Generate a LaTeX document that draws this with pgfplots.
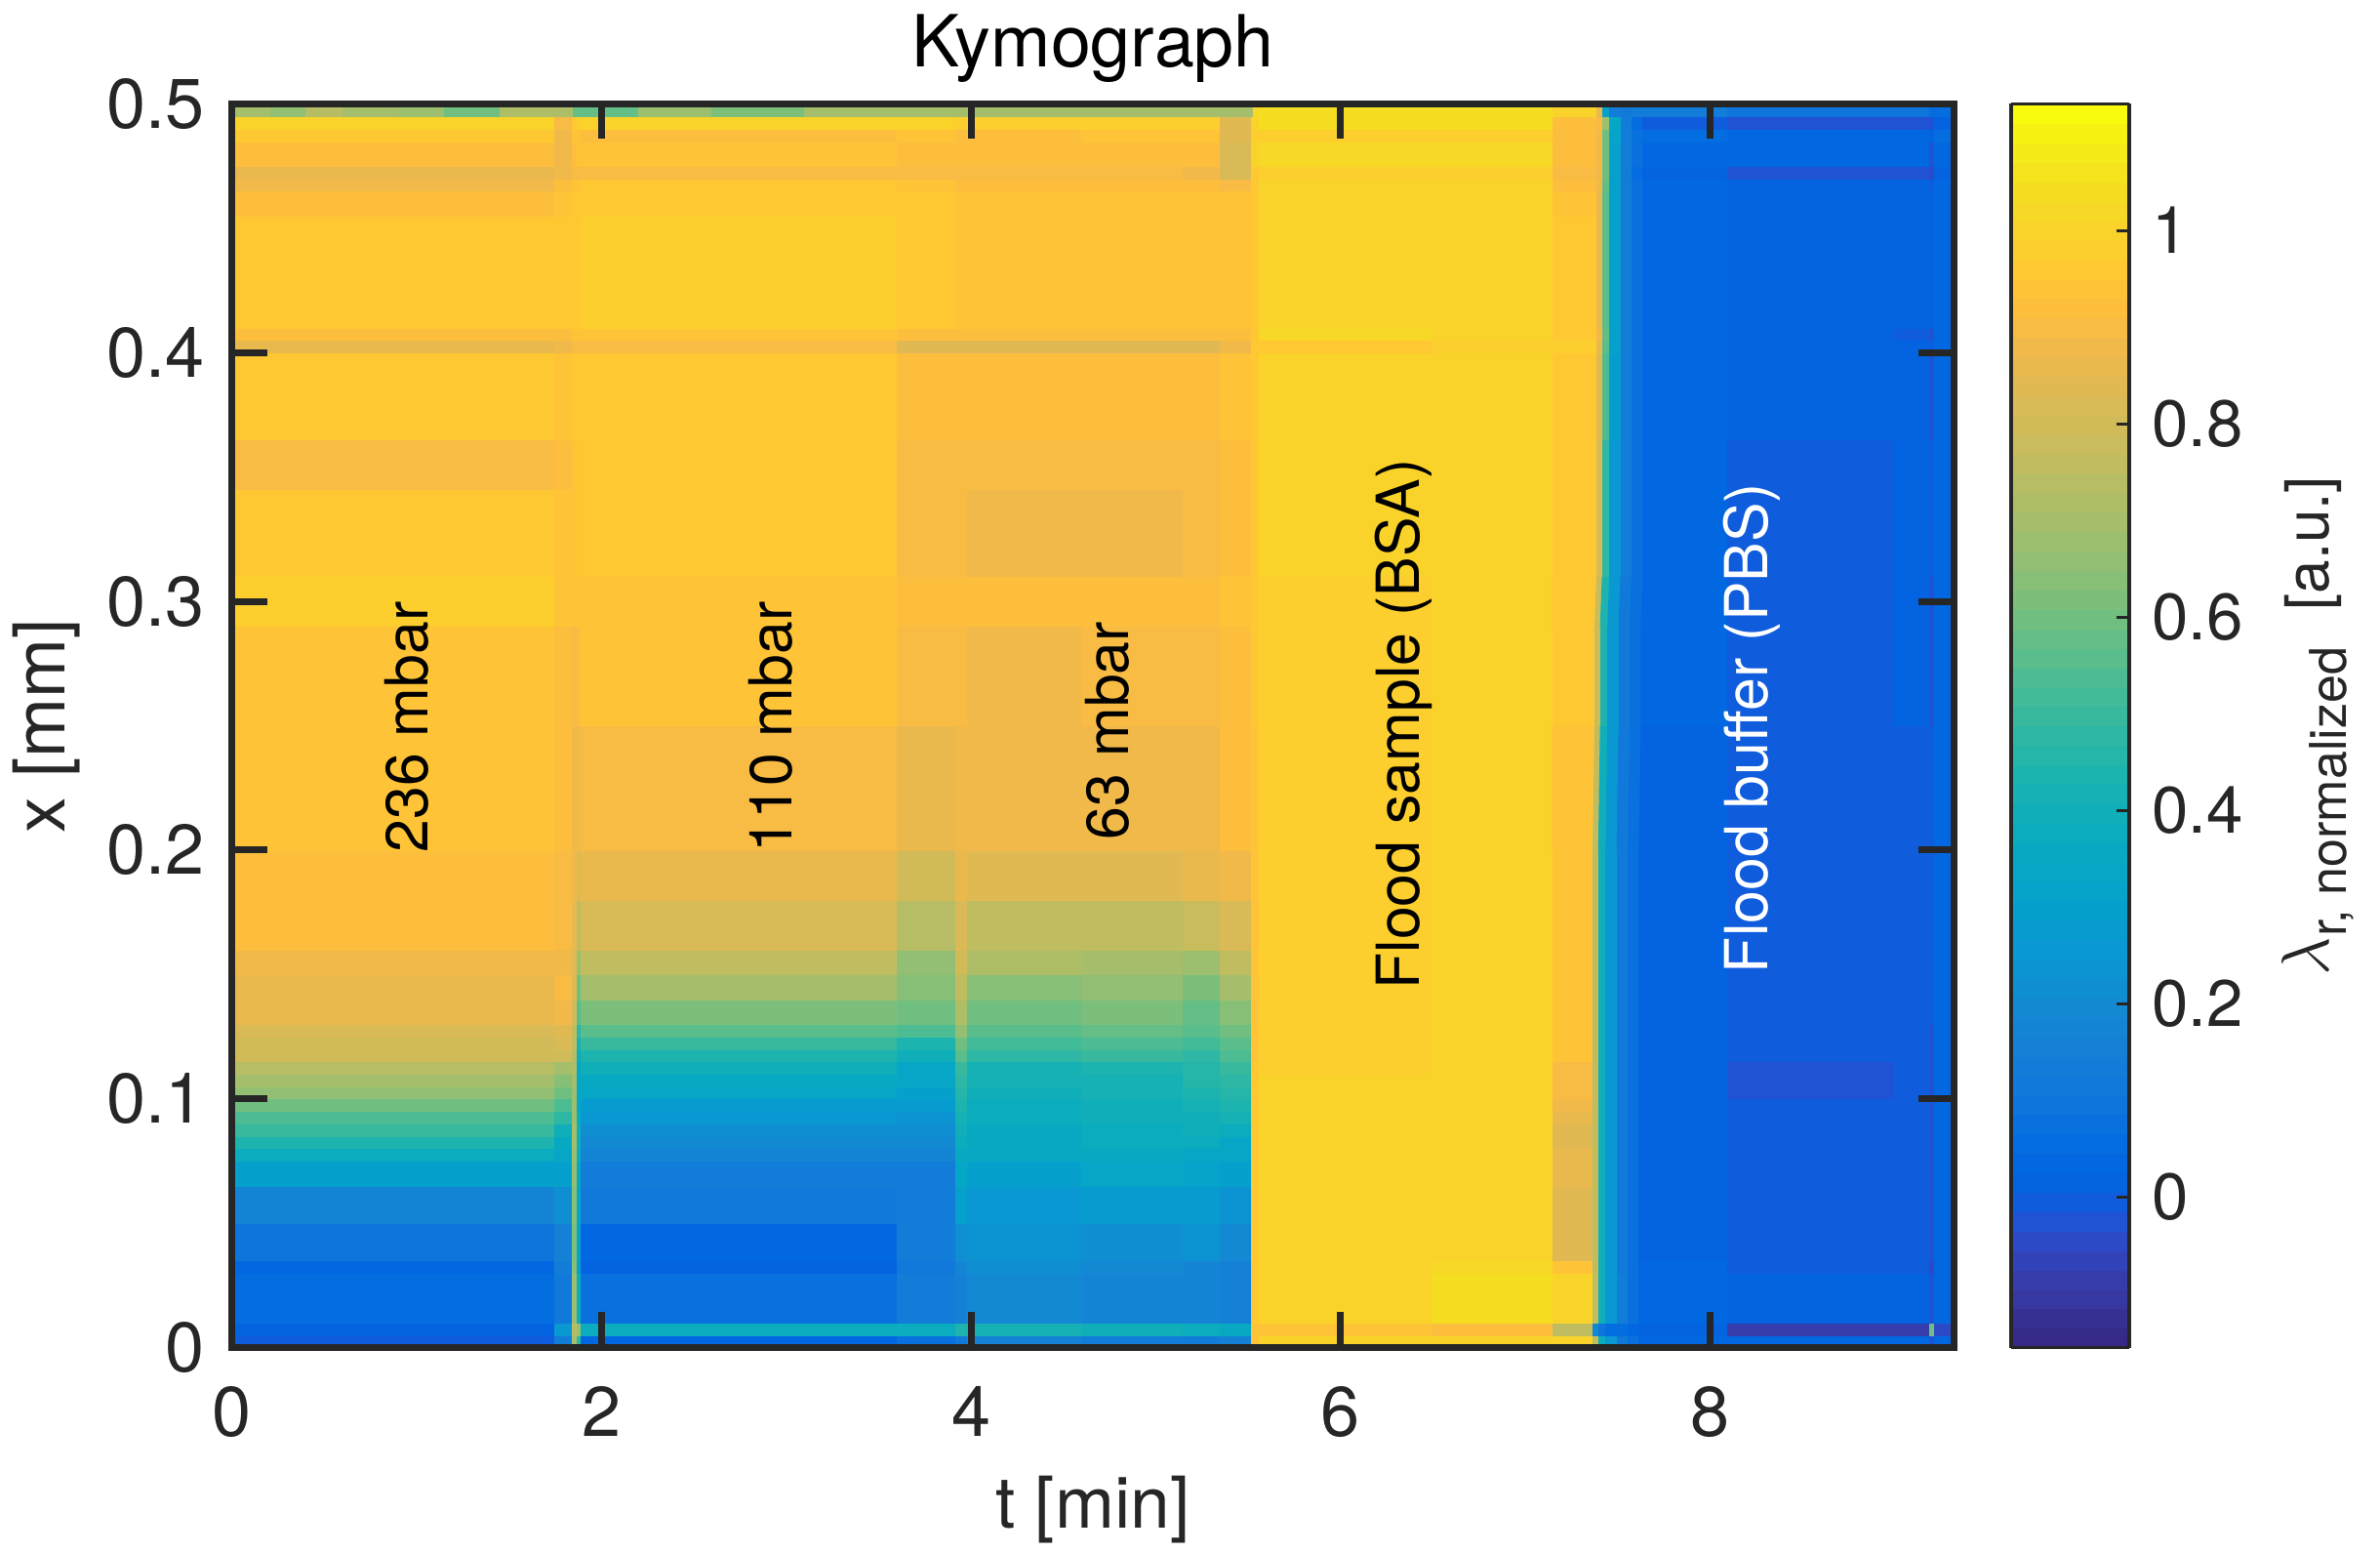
\documentclass[border=0pt]{standalone}
\usepackage{fontspec}
\setmainfont{TeX Gyre Heros}
\usepackage{pgfplots}
\pgfplotsset{compat=1.18}
\definecolor{axdark}{HTML}{262626}
\pgfplotsset{
  colormap={parula}{rgb=(0.2081,0.1663,0.5292) rgb=(0.2116,0.1898,0.5777) rgb=(0.2123,0.2138,0.6270) rgb=(0.2081,0.2386,0.6771)
  rgb=(0.1959,0.2645,0.7279) rgb=(0.1707,0.2919,0.7792) rgb=(0.1253,0.3242,0.8303) rgb=(0.0591,0.3598,0.8683)
  rgb=(0.0117,0.3875,0.8820) rgb=(0.0060,0.4086,0.8828) rgb=(0.0165,0.4266,0.8786) rgb=(0.0329,0.4430,0.8720)
  rgb=(0.0498,0.4586,0.8641) rgb=(0.0629,0.4737,0.8554) rgb=(0.0723,0.4887,0.8467) rgb=(0.0779,0.5040,0.8384)
  rgb=(0.0793,0.5200,0.8312) rgb=(0.0749,0.5375,0.8263) rgb=(0.0641,0.5570,0.8240) rgb=(0.0488,0.5772,0.8228)
  rgb=(0.0343,0.5966,0.8199) rgb=(0.0265,0.6137,0.8135) rgb=(0.0239,0.6287,0.8038) rgb=(0.0231,0.6418,0.7913)
  rgb=(0.0228,0.6535,0.7768) rgb=(0.0267,0.6642,0.7607) rgb=(0.0384,0.6743,0.7436) rgb=(0.0590,0.6838,0.7254)
  rgb=(0.0843,0.6928,0.7062) rgb=(0.1133,0.7015,0.6859) rgb=(0.1453,0.7098,0.6646) rgb=(0.1801,0.7177,0.6424)
  rgb=(0.2178,0.7250,0.6193) rgb=(0.2586,0.7317,0.5954) rgb=(0.3022,0.7376,0.5712) rgb=(0.3482,0.7424,0.5473)
  rgb=(0.3953,0.7459,0.5244) rgb=(0.4420,0.7481,0.5033) rgb=(0.4871,0.7491,0.4840) rgb=(0.5300,0.7491,0.4661)
  rgb=(0.5709,0.7485,0.4494) rgb=(0.6099,0.7473,0.4337) rgb=(0.6473,0.7456,0.4188) rgb=(0.6834,0.7435,0.4044)
  rgb=(0.7184,0.7411,0.3905) rgb=(0.7525,0.7384,0.3768) rgb=(0.7858,0.7356,0.3633) rgb=(0.8185,0.7327,0.3498)
  rgb=(0.8507,0.7299,0.3360) rgb=(0.8824,0.7274,0.3217) rgb=(0.9139,0.7258,0.3063) rgb=(0.9450,0.7261,0.2886)
  rgb=(0.9739,0.7314,0.2666) rgb=(0.9938,0.7455,0.2403) rgb=(0.9990,0.7653,0.2164) rgb=(0.9955,0.7861,0.1967)
  rgb=(0.9880,0.8066,0.1794) rgb=(0.9789,0.8271,0.1633) rgb=(0.9697,0.8481,0.1475) rgb=(0.9626,0.8705,0.1309)
  rgb=(0.9589,0.8949,0.1132) rgb=(0.9598,0.9218,0.0948) rgb=(0.9661,0.9514,0.0755) rgb=(0.9763,0.9831,0.0538)},
}
\newcommand{\fs}[1]{\fontsize{#1}{#1}\selectfont}
\begin{document}
\begin{tikzpicture}
\path[use as bounding box] (-59.5pt,-52.625pt) rectangle (550.25pt,345.125pt);
\begin{axis}[
  at={(0,0)}, anchor=south west,
  scale only axis, width=441pt, height=318.5pt,
  xmin=0, xmax=9.32, ymin=0, ymax=0.5,
  axis on top,
  axis line style={line width=1.75pt, color=axdark},
  tick align=inside, tick pos=both,
  major tick length=9pt,
  tick style={line width=1.75pt, color=axdark},
  xtick={0,2,4,6,8}, ytick={0,0.1,0.2,0.3,0.4,0.5},
  /pgf/number format/assume math mode=true,
  /pgf/number format/fixed,
  tick label style={font=\fs{18}, color=axdark},
  xticklabel style={yshift=-6.5pt},
  yticklabel style={xshift=-3.5pt},
  title={Kymograph}, title style={font=\fs{18.4}, color=black, yshift=-4pt},
  xlabel={t [min]}, ylabel={x [mm]},
  xlabel shift=3pt,
  label style={font=\fs{18.3}, color=axdark},
  colormap name=parula,
  colormap access=piecewise constant,
  point meta min=-0.156, point meta max=1.131,
  colorbar, colorbar sampled,
  colorbar style={
    samples=65,
    width=30.25pt, height=318.5pt,
    at={(parent axis.north east)}, anchor=north west, xshift=6.25pt,
    ytick={0,0.2,0.4,0.6,0.8,1},
    tick align=inside, ytick pos=right, yticklabel pos=right,
    major tick length=3.25pt,
    tick style={line width=0.75pt, color=axdark},
    axis line style={line width=0.9pt, color=axdark},
    yticklabel style={font=\fs{16.8}, color=axdark, xshift=2.3pt},
    /pgf/number format/assume math mode=true,
    /pgf/number format/fixed,
    ylabel={{\fs{19}$\lambda$}\raisebox{-0.3em}{\fs{13}r, normalized}\hspace{0.6em}[a.u.]},
    ylabel style={font=\fs{15.5}, color=axdark},
    ylabel shift=3pt,
  },
]
\addplot[surf, shader=flat corner, mesh/cols=26, mesh/ordering=x varies, point meta=explicit]
  table[row sep=\\, header=false, x index=0, y index=1, meta index=2] {
0 0 -.01\\1.75 0 .14\\1.845 0 .7\\1.87 0 .485\\1.89 0 .03\\3.6 0 .08\\3.92 0 .12\\3.98 0 .16\\4.6 0 .14\\5.15 0 .14\\5.35 0 .15\\5.52 0 .93\\5.56 0 1.01\\6.5 0 1.01\\7.15 0 1.01\\7.37 0 .76\\7.4 0 .385\\7.44 0 .25\\7.5 0 .12\\7.56 0 .08\\7.62 0 .04\\8.1 0 .03\\9 0 .03\\9.19 0 -.02\\9.22 0 .03\\9.32 0 .03\\
0 .005 .02\\1.75 .005 .25\\1.845 .005 .74\\1.87 .005 .68\\1.89 .005 .385\\3.6 .005 .385\\3.92 .005 .435\\3.98 .005 .425\\4.6 .005 .405\\5.15 .005 .385\\5.35 .005 .365\\5.52 .005 .94\\5.56 .005 .93\\6.5 .005 .92\\7.15 .005 .76\\7.37 .005 .2\\7.4 .005 .1\\7.44 .005 .06\\7.5 .005 .05\\7.56 .005 .04\\7.62 .005 .02\\8.1 .005 -.08\\9 .005 -.09\\9.19 .005 .6\\9.22 .005 -.05\\9.32 .005 -.05\\
0 .01 .05\\1.75 .01 .12\\1.845 .01 .68\\1.87 .01 .385\\1.89 .01 .07\\3.6 .01 .13\\3.92 .01 .16\\3.98 .01 .2\\4.6 .01 .17\\5.15 .01 .17\\5.35 .01 .16\\5.52 .01 .96\\5.56 .01 1.01\\6.5 .01 1.04\\7.15 .01 1.01\\7.37 .01 .76\\7.4 .01 .405\\7.44 .01 .25\\7.5 .01 .13\\7.56 .01 .08\\7.62 .01 .03\\8.1 .01 .02\\9 .01 .02\\9.19 .01 -.03\\9.22 .01 .04\\9.32 .01 .04\\
0 .03 .03\\1.75 .03 .13\\1.845 .03 .64\\1.87 .03 .3\\1.89 .03 .01\\3.6 .03 .12\\3.92 .03 .18\\3.98 .03 .22\\4.6 .03 .2\\5.15 .03 .18\\5.35 .03 .16\\5.52 .03 .96\\5.56 .03 1.01\\6.5 .03 1.02\\7.15 .03 .94\\7.37 .03 .76\\7.4 .03 .405\\7.44 .03 .25\\7.5 .03 .12\\7.56 .03 .07\\7.62 .03 .03\\8.1 .03 0\\9 .03 -.01\\9.19 .03 -.05\\9.22 .03 .03\\9.32 .03 .03\\
0 .035 .1\\1.75 .035 .15\\1.845 .035 .62\\1.87 .035 .32\\1.89 .035 .03\\3.6 .035 .13\\3.92 .035 .22\\3.98 .035 .24\\4.6 .035 .22\\5.15 .035 .23\\5.35 .035 .19\\5.52 .035 .96\\5.56 .035 1\\6.5 .035 1.005\\7.15 .035 .84\\7.37 .035 .76\\7.4 .035 .405\\7.44 .035 .25\\7.5 .035 .12\\7.56 .035 .07\\7.62 .035 .02\\8.1 .035 0\\9 .035 0\\9.19 .035 -.03\\9.22 .035 .03\\9.32 .035 .03\\
0 .05 .17\\1.75 .05 .22\\1.845 .05 .64\\1.87 .05 .34\\1.89 .05 .12\\3.6 .05 .13\\3.92 .05 .3\\3.98 .05 .26\\4.6 .05 .28\\5.15 .05 .28\\5.35 .05 .24\\5.52 .05 .96\\5.56 .05 1\\6.5 .05 1.005\\7.15 .05 .83\\7.37 .05 .76\\7.4 .05 .405\\7.44 .05 .25\\7.5 .05 .12\\7.56 .05 .07\\7.62 .05 .02\\8.1 .05 0\\9 .05 0\\9.19 .05 -.02\\9.22 .05 .03\\9.32 .05 .03\\
0 .065 .3\\1.75 .065 .3\\1.845 .065 .66\\1.87 .065 .365\\1.89 .065 .14\\3.6 .065 .13\\3.92 .065 .345\\3.98 .065 .3\\4.6 .065 .33\\5.15 .065 .32\\5.35 .065 .3\\5.52 .065 .96\\5.56 .065 1\\6.5 .065 1.005\\7.15 .065 .86\\7.37 .065 .76\\7.4 .065 .405\\7.44 .065 .25\\7.5 .065 .12\\7.56 .065 .07\\7.62 .065 .02\\8.1 .065 -.01\\9 .065 0\\9.19 .065 -.02\\9.22 .065 .03\\9.32 .065 .03\\
0 .075 .375\\1.75 .075 .34\\1.845 .075 .68\\1.87 .075 .385\\1.89 .075 .17\\3.6 .075 .17\\3.92 .075 .365\\3.98 .075 .35\\4.6 .075 .355\\5.15 .075 .345\\5.35 .075 .34\\5.52 .075 .96\\5.56 .075 1\\6.5 .075 1.005\\7.15 .075 .86\\7.37 .075 .76\\7.4 .075 .405\\7.44 .075 .25\\7.5 .075 .12\\7.56 .075 .07\\7.62 .075 .02\\8.1 .075 -.01\\9 .075 0\\9.19 .075 -.02\\9.22 .075 .03\\9.32 .075 .03\\
0 .08 .445\\1.75 .08 .365\\1.845 .08 .7\\1.87 .08 .405\\1.89 .08 .19\\3.6 .08 .2\\3.92 .08 .385\\3.98 .08 .355\\4.6 .08 .375\\5.15 .08 .375\\5.35 .08 .345\\5.52 .08 .96\\5.56 .08 1\\6.5 .08 1.005\\7.15 .08 .84\\7.37 .08 .76\\7.4 .08 .405\\7.44 .08 .25\\7.5 .08 .12\\7.56 .08 .07\\7.62 .08 .02\\8.1 .08 -.01\\9 .08 0\\9.19 .08 -.02\\9.22 .08 .03\\9.32 .08 .03\\
0 .085 .495\\1.75 .085 .405\\1.845 .085 .7\\1.87 .085 .405\\1.89 .085 .22\\3.6 .085 .22\\3.92 .085 .405\\3.98 .085 .365\\4.6 .085 .385\\5.15 .085 .395\\5.35 .085 .385\\5.52 .085 .96\\5.56 .085 1\\6.5 .085 1.005\\7.15 .085 .84\\7.37 .085 .76\\7.4 .085 .405\\7.44 .085 .25\\7.5 .085 .12\\7.56 .085 .07\\7.62 .085 .02\\8.1 .085 -.01\\9 .085 0\\9.19 .085 -.02\\9.22 .085 .03\\9.32 .085 .03\\
0 .09 .545\\1.75 .09 .485\\1.845 .09 .68\\1.87 .09 .385\\1.89 .09 .25\\3.6 .09 .24\\3.92 .09 .425\\3.98 .09 .375\\4.6 .09 .395\\5.15 .09 .405\\5.35 .09 .425\\5.52 .09 .96\\5.56 .09 1\\6.5 .09 1.005\\7.15 .09 .86\\7.37 .09 .76\\7.4 .09 .405\\7.44 .09 .25\\7.5 .09 .12\\7.56 .09 .07\\7.62 .09 .02\\8.1 .09 -.01\\9 .09 0\\9.19 .09 -.02\\9.22 .09 .03\\9.32 .09 .03\\
0 .095 .6\\1.75 .095 .545\\1.845 .095 .68\\1.87 .095 .34\\1.89 .095 .28\\3.6 .095 .27\\3.92 .095 .445\\3.98 .095 .385\\4.6 .095 .405\\5.15 .095 .425\\5.35 .095 .445\\5.52 .095 .96\\5.56 .095 1\\6.5 .095 1.005\\7.15 .095 .88\\7.37 .095 .76\\7.4 .095 .405\\7.44 .095 .25\\7.5 .095 .12\\7.56 .095 .07\\7.62 .095 .02\\8.1 .095 -.01\\9 .095 0\\9.19 .095 -.02\\9.22 .095 .03\\9.32 .095 .03\\
0 .1 .66\\1.75 .1 .6\\1.845 .1 .68\\1.87 .1 .34\\1.89 .1 .33\\3.6 .1 .3\\3.92 .1 .465\\3.98 .1 .405\\4.6 .1 .415\\5.15 .1 .445\\5.35 .1 .465\\5.52 .1 .96\\5.56 .1 1\\6.5 .1 1.005\\7.15 .1 .9\\7.37 .1 .76\\7.4 .1 .405\\7.44 .1 .25\\7.5 .1 .12\\7.56 .1 .07\\7.62 .1 .02\\8.1 .1 -.02\\9 .1 -.01\\9.19 .1 -.02\\9.22 .1 .03\\9.32 .1 .03\\
0 .105 .7\\1.75 .105 .64\\1.845 .105 .7\\1.87 .105 .33\\1.89 .105 .355\\3.6 .105 .33\\3.92 .105 .485\\3.98 .105 .415\\4.6 .105 .425\\5.15 .105 .455\\5.35 .105 .485\\5.52 .105 .96\\5.56 .105 1\\6.5 .105 1.005\\7.15 .105 .9\\7.37 .105 .76\\7.4 .105 .405\\7.44 .105 .25\\7.5 .105 .12\\7.56 .105 .07\\7.62 .105 .02\\8.1 .105 -.02\\9 .105 -.01\\9.19 .105 -.02\\9.22 .105 .03\\9.32 .105 .03\\
0 .11 .74\\1.75 .11 .7\\1.845 .11 .72\\1.87 .11 .345\\1.89 .11 .395\\3.6 .11 .345\\3.92 .11 .505\\3.98 .11 .425\\4.6 .11 .445\\5.15 .11 .465\\5.35 .11 .495\\5.52 .11 .96\\5.56 .11 .99\\6.5 .11 1\\7.15 .11 .89\\7.37 .11 .76\\7.4 .11 .405\\7.44 .11 .25\\7.5 .11 .12\\7.56 .11 .07\\7.62 .11 .02\\8.1 .11 -.02\\9 .11 -.01\\9.19 .11 -.02\\9.22 .11 .03\\9.32 .11 .03\\
0 .115 .8\\1.75 .115 .8\\1.845 .115 .74\\1.87 .115 .385\\1.89 .115 .445\\3.6 .115 .405\\3.92 .115 .565\\3.98 .115 .485\\4.6 .115 .495\\5.15 .115 .485\\5.35 .115 .535\\5.52 .115 .94\\5.56 .115 .99\\6.5 .115 1\\7.15 .115 .94\\7.37 .115 .76\\7.4 .115 .405\\7.44 .115 .25\\7.5 .115 .12\\7.56 .115 .07\\7.62 .115 .02\\8.1 .115 0\\9 .115 0\\9.19 .115 -.02\\9.22 .115 .03\\9.32 .115 .03\\
0 .12 .8\\1.75 .12 .82\\1.845 .12 .76\\1.87 .12 .425\\1.89 .12 .505\\3.6 .12 .445\\3.92 .12 .6\\3.98 .12 .525\\4.6 .12 .535\\5.15 .12 .525\\5.35 .12 .565\\5.52 .12 .94\\5.56 .12 .99\\6.5 .12 1\\7.15 .12 .94\\7.37 .12 .76\\7.4 .12 .405\\7.44 .12 .25\\7.5 .12 .12\\7.56 .12 .07\\7.62 .12 .02\\8.1 .12 0\\9 .12 0\\9.19 .12 -.02\\9.22 .12 .03\\9.32 .12 .03\\
0 .125 .82\\1.75 .125 .84\\1.845 .125 .76\\1.87 .125 .485\\1.89 .125 .565\\3.6 .125 .535\\3.92 .125 .66\\3.98 .125 .565\\4.6 .125 .58\\5.15 .125 .565\\5.35 .125 .6\\5.52 .125 .94\\5.56 .125 .99\\6.5 .125 1\\7.15 .125 .94\\7.37 .125 .76\\7.4 .125 .405\\7.44 .125 .25\\7.5 .125 .12\\7.56 .125 .07\\7.62 .125 .02\\8.1 .125 0\\9 .125 0\\9.19 .125 -.02\\9.22 .125 .03\\9.32 .125 .03\\
0 .13 .86\\1.75 .13 .88\\1.845 .13 .8\\1.87 .13 .565\\1.89 .13 .62\\3.6 .13 .6\\3.92 .13 .72\\3.98 .13 .6\\4.6 .13 .62\\5.15 .13 .585\\5.35 .13 .64\\5.52 .13 .94\\5.56 .13 .99\\6.5 .13 1\\7.15 .13 .94\\7.37 .13 .76\\7.4 .13 .405\\7.44 .13 .25\\7.5 .13 .12\\7.56 .13 .07\\7.62 .13 .02\\8.1 .13 0\\9 .13 0\\9.19 .13 -.01\\9.22 .13 .03\\9.32 .13 .03\\
0 .14 .86\\1.75 .14 .89\\1.845 .14 .84\\1.87 .14 .6\\1.89 .14 .69\\3.6 .14 .63\\3.92 .14 .76\\3.98 .14 .64\\4.6 .14 .66\\5.15 .14 .62\\5.35 .14 .7\\5.52 .14 .94\\5.56 .14 .99\\6.5 .14 1\\7.15 .14 .94\\7.37 .14 .76\\7.4 .14 .405\\7.44 .14 .25\\7.5 .14 .12\\7.56 .14 .07\\7.62 .14 .02\\8.1 .14 0\\9 .14 0\\9.19 .14 -.01\\9.22 .14 .03\\9.32 .14 .03\\
0 .15 .87\\1.75 .15 .88\\1.845 .15 .84\\1.87 .15 .68\\1.89 .15 .76\\3.6 .15 .66\\3.92 .15 .8\\3.98 .15 .72\\4.6 .15 .7\\5.15 .15 .68\\5.35 .15 .76\\5.52 .15 .94\\5.56 .15 .99\\6.5 .15 1\\7.15 .15 .94\\7.37 .15 .76\\7.4 .15 .405\\7.44 .15 .25\\7.5 .15 .12\\7.56 .15 .07\\7.62 .15 .02\\8.1 .15 0\\9 .15 0\\9.19 .15 -.01\\9.22 .15 .03\\9.32 .15 .03\\
0 .16 .91\\1.75 .16 .89\\1.845 .16 .86\\1.87 .16 .76\\1.89 .16 .81\\3.6 .16 .73\\3.92 .16 .82\\3.98 .16 .76\\4.6 .16 .75\\5.15 .16 .78\\5.35 .16 .82\\5.52 .16 .94\\5.56 .16 .99\\6.5 .16 1\\7.15 .16 .94\\7.37 .16 .76\\7.4 .16 .405\\7.44 .16 .25\\7.5 .16 .12\\7.56 .16 .07\\7.62 .16 .02\\8.1 .16 0\\9 .16 0\\9.19 .16 -.01\\9.22 .16 .03\\9.32 .16 .03\\
0 .18 .915\\1.75 .18 .9\\1.845 .18 .87\\1.87 .18 .84\\1.89 .18 .86\\3.6 .18 .8\\3.92 .18 .86\\3.98 .18 .84\\4.6 .18 .84\\5.15 .18 .86\\5.35 .18 .88\\5.52 .18 .94\\5.56 .18 .99\\6.5 .18 1\\7.15 .18 .94\\7.37 .18 .76\\7.4 .18 .405\\7.44 .18 .25\\7.5 .18 .12\\7.56 .18 .07\\7.62 .18 .02\\8.1 .18 0\\9 .18 0\\9.19 .18 -.01\\9.22 .18 .03\\9.32 .18 .03\\
0 .2 .93\\1.75 .2 .92\\1.845 .2 .88\\1.87 .2 .88\\1.89 .2 .9\\3.6 .2 .85\\3.92 .2 .87\\3.98 .2 .87\\4.6 .2 .88\\5.15 .2 .88\\5.35 .2 .91\\5.52 .2 .94\\5.56 .2 .99\\6.5 .2 1\\7.15 .2 .94\\7.37 .2 .76\\7.4 .2 .405\\7.44 .2 .25\\7.5 .2 .12\\7.56 .2 .07\\7.62 .2 .02\\8.1 .2 0\\9 .2 0\\9.19 .2 -.01\\9.22 .2 .03\\9.32 .2 .03\\
0 .25 .945\\1.75 .25 .92\\1.845 .25 .9\\1.87 .25 .91\\1.89 .25 .93\\3.6 .25 .89\\3.92 .25 .89\\3.98 .25 .88\\4.6 .25 .89\\5.15 .25 .89\\5.35 .25 .92\\5.52 .25 .96\\5.56 .25 .99\\6.5 .25 1\\7.15 .25 .96\\7.38 .25 .78\\7.41 .25 .43\\7.45 .25 .25\\7.51 .25 .12\\7.57 .25 .07\\7.63 .25 .03\\8.1 .25 0\\9 .25 .01\\9.19 .25 -.02\\9.22 .25 .03\\9.32 .25 .03\\
0 .29 .98\\1.75 .29 .94\\1.845 .29 .93\\1.87 .29 .93\\1.89 .29 .945\\3.6 .29 .92\\3.92 .29 .91\\3.98 .29 .91\\4.6 .29 .92\\5.15 .29 .91\\5.35 .29 .93\\5.52 .29 .96\\5.56 .29 .99\\6.5 .29 1\\7.15 .29 .96\\7.38 .29 .78\\7.41 .29 .43\\7.45 .29 .25\\7.51 .29 .12\\7.57 .29 .07\\7.63 .29 .03\\8.1 .29 0\\9 .29 .01\\9.19 .29 -.02\\9.22 .29 .03\\9.32 .29 .03\\
0 .31 .95\\1.75 .31 .94\\1.845 .31 .94\\1.87 .31 .96\\1.89 .31 .96\\3.6 .31 .9\\3.92 .31 .9\\3.98 .31 .88\\4.6 .31 .88\\5.15 .31 .89\\5.35 .31 .92\\5.52 .31 .96\\5.56 .31 .995\\6.5 .31 1\\7.15 .31 .96\\7.39 .31 .81\\7.42 .31 .485\\7.46 .31 .26\\7.52 .31 .14\\7.58 .31 .07\\7.64 .31 .03\\8.1 .31 0\\9 .31 .01\\9.19 .31 -.01\\9.22 .31 .03\\9.32 .31 .03\\
0 .345 .89\\1.75 .345 .92\\1.845 .345 .93\\1.87 .345 .96\\1.89 .345 .96\\3.6 .345 .9\\3.92 .345 .9\\3.98 .345 .89\\4.6 .345 .89\\5.15 .345 .9\\5.35 .345 .92\\5.52 .345 .96\\5.56 .345 .995\\6.5 .345 1\\7.15 .345 .96\\7.39 .345 .81\\7.42 .345 .485\\7.46 .345 .26\\7.52 .345 .14\\7.58 .345 .07\\7.64 .345 .03\\8.1 .345 0\\9 .345 .01\\9.19 .345 -.01\\9.22 .345 .03\\9.32 .345 .03\\
0 .365 .95\\1.75 .365 .94\\1.845 .365 .95\\1.87 .365 .96\\1.89 .365 .96\\3.6 .365 .92\\3.92 .365 .91\\3.98 .365 .91\\4.6 .365 .91\\5.15 .365 .91\\5.35 .365 .94\\5.52 .365 .96\\5.56 .365 1\\6.5 .365 1\\7.15 .365 .96\\7.39 .365 .84\\7.42 .365 .535\\7.46 .365 .28\\7.52 .365 .14\\7.58 .365 .07\\7.64 .365 .03\\8.1 .365 .01\\9 .365 .01\\9.19 .365 -.02\\9.22 .365 .03\\9.32 .365 .03\\
0 .4 .86\\1.75 .4 .88\\1.845 .4 .89\\1.87 .4 .89\\1.89 .4 .89\\3.6 .4 .84\\3.92 .4 .84\\3.98 .4 .84\\4.6 .4 .84\\5.15 .4 .84\\5.35 .4 .88\\5.52 .4 .96\\5.56 .4 .96\\6.5 .4 .99\\7.15 .4 .98\\7.39 .4 .86\\7.42 .4 .565\\7.46 .4 .3\\7.52 .4 .14\\7.58 .4 .07\\7.64 .4 .03\\8.1 .4 .01\\9 .4 .02\\9.19 .4 0\\9.22 .4 .03\\9.32 .4 .03\\
0 .405 .91\\1.75 .405 .92\\1.845 .405 .93\\1.87 .405 .93\\1.89 .405 .94\\3.6 .405 .92\\3.92 .405 .91\\3.98 .405 .91\\4.6 .405 .91\\5.15 .405 .91\\5.35 .405 .92\\5.52 .405 .96\\5.56 .405 1.02\\6.5 .405 1.01\\7.15 .405 .96\\7.39 .405 .88\\7.42 .405 .585\\7.46 .405 .3\\7.52 .405 .14\\7.58 .405 .07\\7.64 .405 .03\\8.1 .405 .01\\9 .405 0\\9.19 .405 -.02\\9.22 .405 .03\\9.32 .405 .03\\
0 .41 .96\\1.75 .41 .96\\1.845 .41 .96\\1.87 .41 .96\\1.89 .41 .97\\3.6 .41 .96\\3.92 .41 .94\\3.98 .41 .93\\4.6 .41 .93\\5.15 .41 .93\\5.35 .41 .94\\5.52 .41 .96\\5.56 .41 1\\6.5 .41 1\\7.15 .41 .95\\7.39 .41 .86\\7.42 .41 .565\\7.46 .41 .3\\7.52 .41 .14\\7.58 .41 .07\\7.64 .41 .03\\8.1 .41 .01\\9 .41 .01\\9.19 .41 .01\\9.22 .41 .03\\9.32 .41 .03\\
0 .455 .925\\1.75 .455 .94\\1.845 .455 .95\\1.87 .455 .95\\1.89 .455 .96\\3.6 .455 .96\\3.92 .455 .94\\3.98 .455 .93\\4.6 .455 .93\\5.15 .455 .93\\5.35 .455 .93\\5.52 .455 .96\\5.56 .455 1\\6.5 .455 1\\7.15 .455 .94\\7.39 .455 .86\\7.42 .455 .565\\7.46 .455 .3\\7.52 .455 .14\\7.58 .455 .07\\7.64 .455 .04\\8.1 .455 .02\\9 .455 .02\\9.19 .455 .02\\9.22 .455 .04\\9.32 .455 .04\\
0 .465 .88\\1.75 .465 .91\\1.845 .465 .93\\1.87 .465 .94\\1.89 .465 .96\\3.6 .465 .94\\3.92 .465 .92\\3.98 .465 .91\\4.6 .465 .91\\5.15 .465 .91\\5.35 .465 .89\\5.52 .465 .96\\5.56 .465 1\\6.5 .465 1\\7.15 .465 .92\\7.39 .465 .88\\7.42 .465 .585\\7.46 .465 .3\\7.52 .465 .14\\7.58 .465 .07\\7.64 .465 .04\\8.1 .465 .02\\9 .465 .02\\9.19 .465 0\\9.22 .465 .04\\9.32 .465 .04\\
0 .47 .85\\1.75 .47 .88\\1.845 .47 .89\\1.87 .47 .9\\1.89 .47 .9\\3.6 .47 .9\\3.92 .47 .89\\3.98 .47 .89\\4.6 .47 .89\\5.15 .47 .88\\5.35 .47 .82\\5.52 .47 .96\\5.56 .47 .99\\6.5 .47 .99\\7.15 .47 .9\\7.39 .47 .88\\7.42 .47 .6\\7.46 .47 .3\\7.52 .47 .14\\7.58 .47 .06\\7.64 .47 .02\\8.1 .47 -.02\\9 .47 -.02\\9.19 .47 -.04\\9.22 .47 .02\\9.32 .47 .02\\
0 .475 .915\\1.75 .475 .88\\1.845 .475 .92\\1.87 .475 .93\\1.89 .475 .93\\3.6 .475 .92\\3.92 .475 .91\\3.98 .475 .91\\4.6 .475 .91\\5.15 .475 .91\\5.35 .475 .81\\5.52 .475 1.01\\5.56 .475 1.02\\6.5 .475 1.02\\7.15 .475 .92\\7.39 .475 .88\\7.42 .475 .6\\7.46 .475 .3\\7.52 .475 .14\\7.58 .475 .07\\7.64 .475 .04\\8.1 .475 .03\\9 .475 .03\\9.19 .475 -.02\\9.22 .475 .04\\9.32 .475 .04\\
0 .485 .96\\1.75 .485 .88\\1.845 .485 .94\\1.87 .485 .93\\1.89 .485 .92\\3.6 .485 .93\\3.92 .485 .92\\3.98 .485 .92\\4.6 .485 .93\\5.15 .485 .93\\5.35 .485 .83\\5.52 .485 .99\\5.56 .485 .99\\6.5 .485 .99\\7.15 .485 .92\\7.39 .485 .88\\7.42 .485 .6\\7.46 .485 .32\\7.52 .485 .14\\7.58 .485 .07\\7.64 .485 .05\\8.1 .485 .04\\9 .485 .03\\9.19 .485 .02\\9.22 .485 .05\\9.32 .485 .05\\
0 .49 1.01\\1.75 .49 .9\\1.845 .49 .96\\1.87 .49 .98\\1.89 .49 1\\3.6 .49 1.01\\3.92 .49 .98\\3.98 .49 .98\\4.6 .49 .98\\5.15 .49 .98\\5.35 .49 .84\\5.52 .49 1.01\\5.56 .49 1.04\\6.5 .49 1.04\\7.15 .49 .92\\7.39 .49 .9\\7.42 .49 .68\\7.46 .49 .34\\7.52 .49 .14\\7.58 .49 .06\\7.64 .49 0\\8.1 .49 -.03\\9 .49 -.03\\9.19 .49 -.03\\9.22 .49 .02\\9.32 .49 .02\\
0 .495 .7\\1.75 .495 .68\\1.845 .495 .68\\1.87 .495 .68\\1.89 .495 .68\\3.6 .495 .68\\3.92 .495 .68\\3.98 .495 .68\\4.6 .495 .66\\5.15 .495 .64\\5.35 .495 .64\\5.52 .495 1.03\\5.56 .495 1.05\\6.5 .495 1.04\\7.15 .495 1.01\\7.39 .495 .86\\7.42 .495 .3\\7.46 .495 .14\\7.52 .495 .12\\7.58 .495 .14\\7.64 .495 .14\\8.1 .495 .1\\9 .495 .1\\9.19 .495 .06\\9.22 .495 .05\\9.32 .495 .05\\
0 .5 .7\\1.75 .5 .68\\1.845 .5 .68\\1.87 .5 .68\\1.89 .5 .68\\3.6 .5 .68\\3.92 .5 .68\\3.98 .5 .68\\4.6 .5 .66\\5.15 .5 .64\\5.35 .5 .64\\5.52 .5 1.03\\5.56 .5 1.05\\6.5 .5 1.04\\7.15 .5 1.01\\7.39 .5 .86\\7.42 .5 .3\\7.46 .5 .14\\7.52 .5 .12\\7.58 .5 .14\\7.64 .5 .14\\8.1 .5 .1\\9 .5 .1\\9.19 .5 .06\\9.22 .5 .05\\9.32 .5 .05\\
};
% flecked strip along the top edge
\addplot[surf, shader=flat corner, mesh/cols=11, mesh/ordering=x varies, point meta=explicit]
  table[row sep=\\, header=false, x index=0, y index=1, meta index=2] {
.21 .495 .66\\.4 .495 .74\\.6 .495 .7\\.9 .495 .68\\1.15 .495 .6\\1.45 .495 .72\\1.85 .495 .58\\2.2 .495 .68\\2.6 .495 .62\\3.1 .495 .7\\5.52 .495 .7\\
.21 .5 .66\\.4 .5 .74\\.6 .5 .7\\.9 .5 .68\\1.15 .5 .6\\1.45 .5 .72\\1.85 .5 .58\\2.2 .5 .68\\2.6 .5 .62\\3.1 .5 .7\\5.52 .5 .7\\
};
\node[rotate=90, font=\fs{15.2}, text=black] at (axis cs:0.946,0.2494) {236 mbar};
\node[rotate=90, font=\fs{15.2}, text=black] at (axis cs:2.917,0.2494) {110 mbar};
\node[rotate=90, font=\fs{15.2}, text=black] at (axis cs:4.74,0.248) {63 mbar};
\node[rotate=90, font=\fs{15.2}, text=black] at (axis cs:6.34,0.2506) {Flood sample (BSA)};
\node[rotate=90, font=\fs{15.2}, text=white] at (axis cs:8.23,0.249) {Flood buffer (PBS)};
\end{axis}
\end{tikzpicture}
\end{document}
